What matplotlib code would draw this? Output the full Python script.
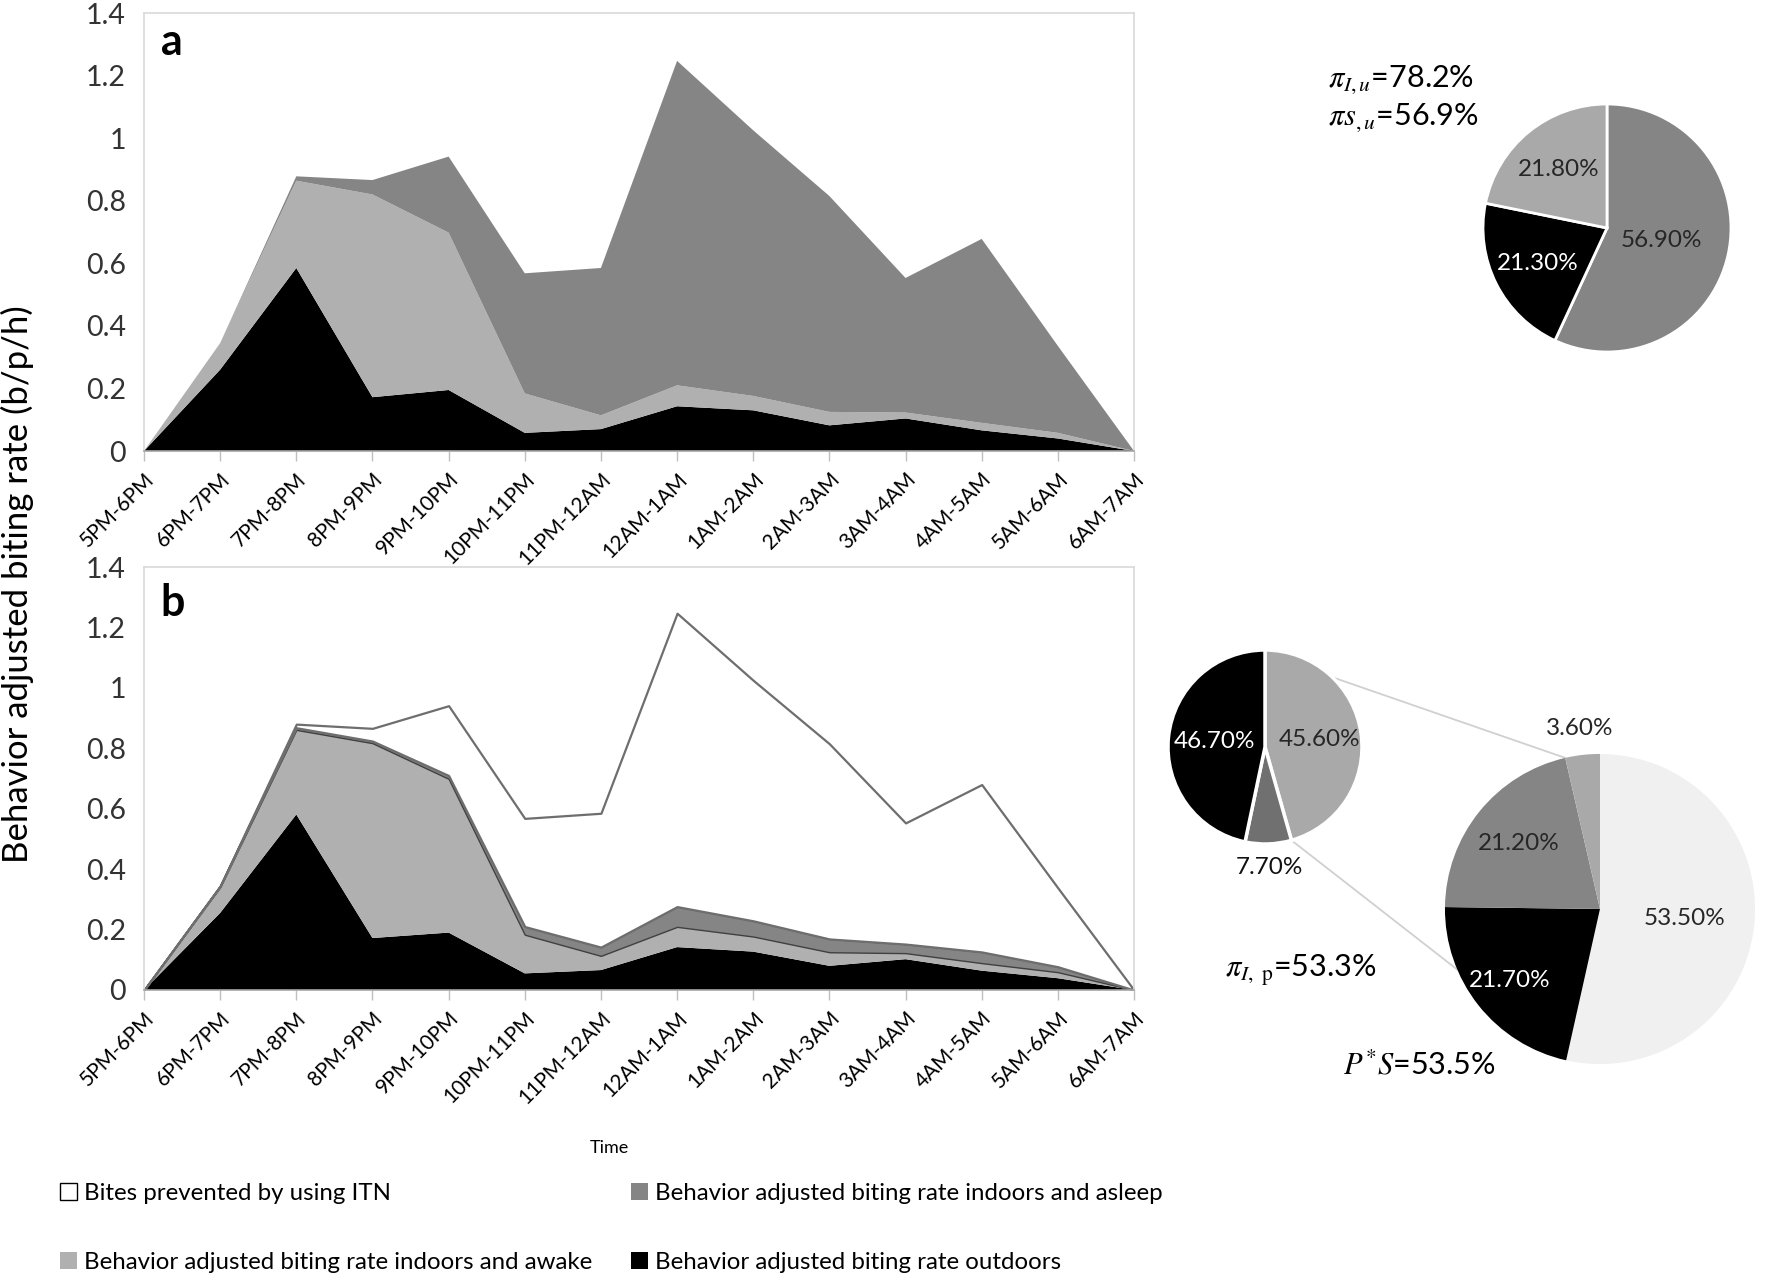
import numpy as np
import matplotlib
matplotlib.use("Agg")
import matplotlib.pyplot as plt
from matplotlib.patches import Patch
from matplotlib.ticker import FuncFormatter

plt.rcParams["font.family"] = ["Lato", "DejaVu Sans"]
plt.rcParams["mathtext.fontset"] = "stix"

hours = ["5PM-6PM", "6PM-7PM", "7PM-8PM", "8PM-9PM", "9PM-10PM", "10PM-11PM",
         "11PM-12AM", "12AM-1AM", "1AM-2AM", "2AM-3AM", "3AM-4AM", "4AM-5AM",
         "5AM-6AM", "6AM-7AM"]

# panel a: no ITN
outdoor_a = [0, 0.260, 0.585, 0.172, 0.195, 0.058, 0.070, 0.143, 0.130, 0.082, 0.104, 0.066, 0.040, 0]
awake_a = [0, 0.085, 0.279, 0.648, 0.503, 0.126, 0.044, 0.067, 0.046, 0.043, 0.019, 0.024, 0.018, 0]
asleep_a = [0, 0.000, 0.014, 0.046, 0.243, 0.384, 0.471, 1.037, 0.849, 0.690, 0.430, 0.588, 0.278, 0]

# panel b: with ITN
outdoor_b = [0, 0.255, 0.581, 0.172, 0.190, 0.055, 0.066, 0.142, 0.127, 0.080, 0.102, 0.064, 0.039, 0]
awake_b = [0, 0.085, 0.280, 0.645, 0.509, 0.128, 0.047, 0.067, 0.050, 0.045, 0.020, 0.025, 0.020, 0]
asleep_b = [0, 0.004, 0.007, 0.007, 0.011, 0.027, 0.029, 0.067, 0.052, 0.044, 0.030, 0.037, 0.018, 0]
prevented_b = [0, 0.000, 0.012, 0.042, 0.231, 0.358, 0.443, 0.971, 0.796, 0.646, 0.401, 0.554, 0.261, 0]

pie_a_vals = [56.9, 21.3, 21.8]
pie_a_labels = ["56.90%", "21.30%", "21.80%"]
pie_small_vals = [45.6, 7.7, 46.7]
pie_small_labels = ["45.60%", "7.70%", "46.70%"]
pie_big_vals = [53.5, 21.7, 21.2, 3.6]
pie_big_labels = ["53.50%", "21.70%", "21.20%", "3.60%"]

legend_labels = ["Bites prevented by using ITN",
                 "Behavior adjusted biting rate indoors and awake",
                 "Behavior adjusted biting rate indoors and asleep",
                 "Behavior adjusted biting rate outdoors"]

BLACK = "#000000"
LIGHT = "#b0b0b0"
DARK = "#858585"

W, H = 1770, 1285
fig = plt.figure(figsize=(W / 100, H / 100), dpi=100)


def style_axes(ax):
    ax.set_xlim(0, len(hours) - 1)
    ax.set_ylim(0, 1.4)
    ax.set_yticks(np.arange(0, 1.41, 0.2))
    ax.yaxis.set_major_formatter(FuncFormatter(lambda v, p: "%g" % round(v, 1)))
    ax.set_xticks(range(len(hours)))
    ax.set_xticklabels(hours, rotation=45, ha="right", va="top",
                       rotation_mode="anchor", fontsize=15)
    ax.tick_params(axis="y", length=0, labelsize=20.5, pad=13, colors="#333333")
    ax.tick_params(axis="x", length=7, width=1, color="#bfbfbf", pad=6)
    for s in ax.spines.values():
        s.set_color("#d9d9d9")
        s.set_linewidth(1.2)
    ax.spines["bottom"].set_color("#a6a6a6")


ax_a = fig.add_axes([144 / W, 1 - 451 / H, 990 / W, 438 / H])
x = np.arange(len(hours))
ax_a.stackplot(x, outdoor_a, awake_a, asleep_a,
               colors=[BLACK, LIGHT, DARK], linewidth=0)
style_axes(ax_a)
ax_a.text(0.028, 0.934, "a", transform=ax_a.transAxes, fontsize=31,
          fontweight="bold", ha="center", va="center")

ax_b = fig.add_axes([144 / W, 1 - 990 / H, 990 / W, 423 / H])
polys = ax_b.stackplot(x, outdoor_b, awake_b, asleep_b, prevented_b,
                       colors=[BLACK, LIGHT, DARK, "white"])
polys[0].set_linewidth(0)
polys[1].set_linewidth(0)
polys[2].set_edgecolor("#404040")
polys[2].set_linewidth(1.0)
polys[3].set_edgecolor("#6e6e6e")
polys[3].set_linewidth(1.6)
style_axes(ax_b)
ax_b.text(0.029, 0.915, "b", transform=ax_b.transAxes, fontsize=31,
          fontweight="bold", ha="center", va="center")

fig.text(17 / W, 1 - 584 / H, "Behavior adjusted biting rate (b/p/h)",
         rotation=90, ha="center", va="center", fontsize=25)
fig.text(609 / W, 1 - 1148 / H, "Time", ha="center", va="center", fontsize=13)

# legend in two separate columns
h_prev = Patch(facecolor="white", edgecolor="black", linewidth=1.0)
h_awake = Patch(facecolor=LIGHT, edgecolor="none")
h_asleep = Patch(facecolor=DARK, edgecolor="none")
h_out = Patch(facecolor=BLACK, edgecolor="none")
leg_kw = dict(frameon=False, loc="center left", fontsize=17.3, handlelength=0.7,
              handleheight=0.7, handletextpad=0.3, labelspacing=2.0,
              borderaxespad=0, borderpad=0)
fig.legend([h_prev, h_awake], legend_labels[:2],
           bbox_to_anchor=(60 / W, 1 - 1228 / H), **leg_kw)
fig.legend([h_asleep, h_out], legend_labels[2:],
           bbox_to_anchor=(631 / W, 1 - 1228 / H), **leg_kw)

# overlay axes in pixel units for the pies
ov = fig.add_axes([0, 0, 1, 1])


def pie_at(vals, colors, cx, cy, r, explode=None, lw=2.0):
    wedges, _ = ov.pie(vals, colors=colors, startangle=90, counterclock=False,
                       center=(cx, H - cy), radius=r, explode=explode,
                       wedgeprops=dict(edgecolor="white", linewidth=lw))
    return wedges


def put_labels(wedges, labels, dists, tcolors, fs=17.5):
    for w, lab, d, c in zip(wedges, labels, dists, tcolors):
        ang = np.deg2rad((w.theta1 + w.theta2) / 2)
        px = w.center[0] + d * w.r * np.cos(ang)
        py = w.center[1] + d * w.r * np.sin(ang)
        ov.text(px, py, lab, ha="center", va="center", fontsize=fs, color=c)


wa = pie_at(pie_a_vals, [DARK, BLACK, "#a9a9a9"], 1607, 228, 124)
put_labels(wa, pie_a_labels, [0.45, 0.63, 0.61], ["#262626", "white", "#262626"])

ws = pie_at(pie_small_vals, ["#a9a9a9", "#707070", BLACK], 1265, 747, 97, lw=2.5)
put_labels(ws, pie_small_labels, [0.57, 1.24, 0.52], ["#262626", "#111111", "white"])

wb = pie_at(pie_big_vals, ["#f0f0f0", BLACK, DARK, "#a9a9a9"], 1600, 909, 155,
            explode=[0.025, 0.05, 0.05, 0.06], lw=0)
put_labels(wb, pie_big_labels, [0.55, 0.74, 0.67, 1.17],
           ["#262626", "white", "#262626", "#262626"])


# connector lines between the two pies of panel b
def on_wedge(w, ang_deg, frac=1.0):
    a = np.deg2rad(ang_deg)
    return (w.center[0] + frac * w.r * np.cos(a), w.center[1] + frac * w.r * np.sin(a))


p1 = on_wedge(ws[0], 46)
p2 = on_wedge(wb[3], max(wb[3].theta1, wb[3].theta2))
p3 = on_wedge(ws[0], min(ws[0].theta1, ws[0].theta2))
p4 = on_wedge(wb[1], 203)
ov.plot([p1[0], p2[0]], [p1[1], p2[1]], color="#d0d0d0", lw=1.3, zorder=0)
ov.plot([p3[0], p4[0]], [p3[1], p4[1]], color="#d0d0d0", lw=1.3, zorder=0)

ov.set_xlim(0, W)
ov.set_ylim(0, H)
ov.set_aspect("auto")
ov.axis("off")

fig.text(1328 / W, 1 - 80 / H, r"$\pi_{I,u}$=78.2%", fontsize=22, va="center")
fig.text(1328 / W, 1 - 118 / H, r"$\pi s_{,u}$=56.9%", fontsize=22, va="center")
fig.text(1225 / W, 1 - 970 / H, r"$\pi_{I,\ \mathrm{p}}$=53.3%", fontsize=22, va="center")
fig.text(1343 / W, 1 - 1065 / H, r"$P^{*}S$=53.5%", fontsize=22, va="center")

fig.savefig("out.png", dpi=100)
